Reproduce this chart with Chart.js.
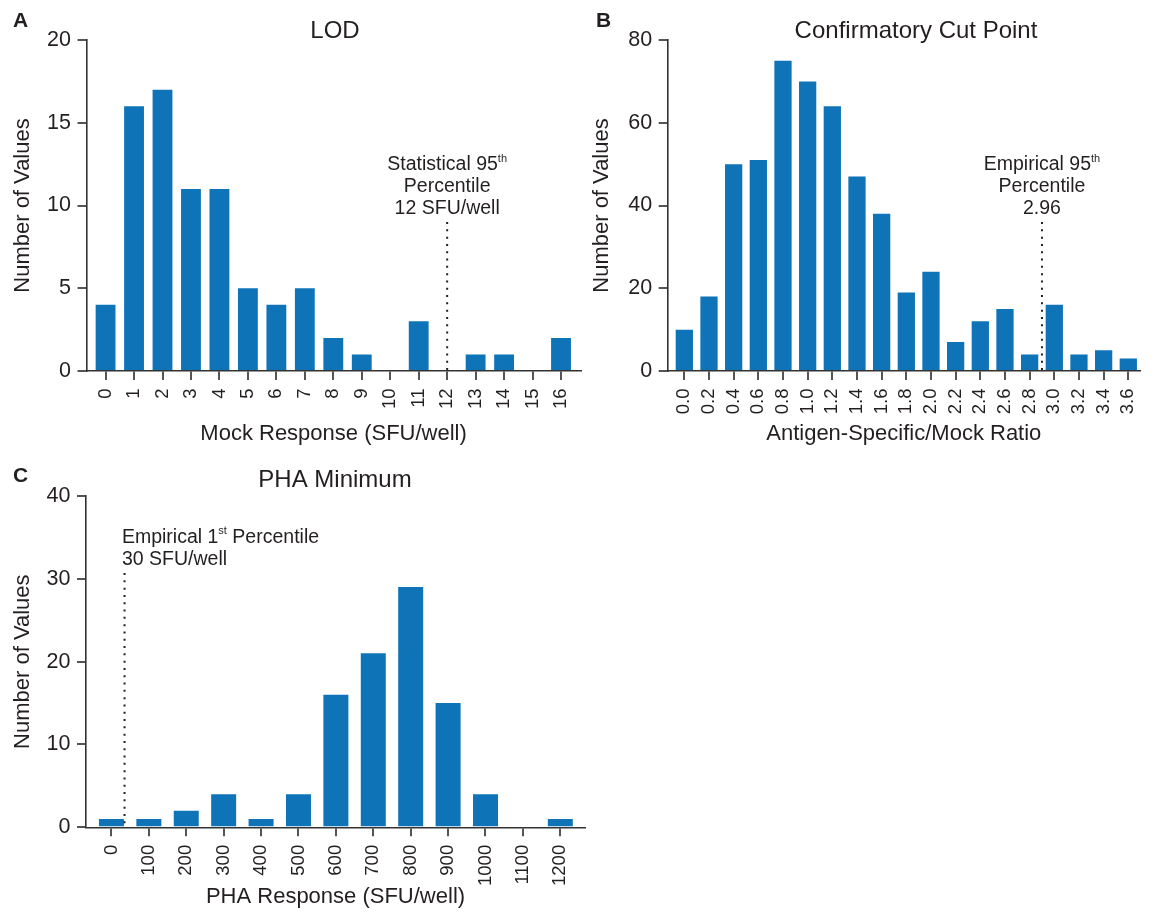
<!DOCTYPE html>
<html>
<head>
<meta charset="utf-8">
<script src="https://cdn.jsdelivr.net/npm/chart.js@4.4.0/dist/chart.umd.min.js"></script>
<style>
html,body{margin:0;padding:0;background:#fff;}
body{width:1159px;height:912px;position:relative;overflow:hidden;}
.p{position:absolute;}
canvas{display:block;}
</style>
</head>
<body>
<div class="p" style="left:0;top:0;width:592px;height:455px"><canvas id="cA" width="592" height="455"></canvas></div>
<div class="p" style="left:580px;top:0;width:579px;height:455px"><canvas id="cB" width="579" height="455"></canvas></div>
<div class="p" style="left:0;top:456px;width:592px;height:456px"><canvas id="cC" width="592" height="456"></canvas></div>
<script>
// ---------- data ----------
const catsA = ['0','1','2','3','4','5','6','7','8','9','10','11','12','13','14','15','16'];
const countsA = [4,16,17,11,11,5,4,5,2,1,0,3,0,1,1,0,2];
const yTicksA = [0,5,10,15,20];

const catsB = ['0.0','0.2','0.4','0.6','0.8','1.0','1.2','1.4','1.6','1.8','2.0','2.2','2.4','2.6','2.8','3.0','3.2','3.4','3.6'];
const countsB = [10,18,50,51,75,70,64,47,38,19,24,7,12,15,4,16,4,5,3];
const yTicksB = [0,20,40,60,80];

const catsC = ['0','100','200','300','400','500','600','700','800','900','1000','1100','1200'];
const countsC = [1,1,2,4,1,4,16,21,29,15,4,0,1];
const yTicksC = [0,10,20,30,40];

const titles = ['LOD', 'Confirmatory Cut Point', 'PHA Minimum'];
const letters = ['A', 'B', 'C'];
const xTitles = ['Mock Response (SFU/well)', 'Antigen-Specific/Mock Ratio', 'PHA Response (SFU/well)'];
const yTitle = 'Number of Values';

// annotation texts (odd segments are superscripts)
const noteA = [['Statistical 95', 'th'], ['Percentile'], ['12 SFU/well']];
const noteB = [['Empirical 95', 'th'], ['Percentile'], ['2.96']];
const noteC = [['Empirical 1', 'st', ' Percentile'], ['30 SFU/well']];
// cut-off line position (category index) and top (count value)
const cutA = 12, cutTopA = 9;
const cutB = 14.5, cutTopB = 36;
const cutC = 0.35, cutTopC = 30.7;

// ---------- style ----------
const FONT = "'Liberation Sans', Arial, Helvetica, sans-serif";
const TEXT = '#231f20';
const BAR = '#0f73b8';
Chart.defaults.font.family = FONT;
Chart.defaults.color = TEXT;

function panelPlugin(p) {
  return {
    id: 'panel' + p.letter,
    afterDraw(chart) {
      const ctx = chart.ctx, xs = chart.scales.x, ys = chart.scales.y;
      ctx.save();
      ctx.fillStyle = TEXT;
      ctx.textBaseline = 'alphabetic';
      ctx.textAlign = 'left';
      ctx.font = 'bold 21px ' + FONT;
      ctx.fillText(p.letter, p.letterX, p.letterY);
      ctx.font = '24px ' + FONT;
      ctx.textAlign = 'center';
      ctx.textBaseline = 'middle';
      ctx.fillText(p.title, p.titleX, p.titleY);
      const lx = xs.getPixelForValue(p.lineAt);
      const ly = ys.getPixelForValue(p.lineTop);
      const lb = ys.getPixelForValue(0);
      ctx.strokeStyle = TEXT;
      ctx.lineWidth = 2;
      ctx.setLineDash([2, 5.3]);
      ctx.beginPath();
      ctx.moveTo(lx, ly);
      ctx.lineTo(lx, lb);
      ctx.stroke();
      ctx.setLineDash([]);
      ctx.textBaseline = 'alphabetic';
      ctx.textAlign = 'left';
      const n = p.note.length;
      p.note.forEach((segs, li) => {
        const base = ly - 8.5 - (n - 1 - li) * 21.7;
        let w = 0;
        segs.forEach((s, i) => { ctx.font = (i % 2 ? '11px ' : '19.5px ') + FONT; w += ctx.measureText(s).width; });
        let x0 = p.noteAlign === 'center' ? lx - w / 2 : lx + p.noteDx;
        segs.forEach((s, i) => {
          ctx.font = (i % 2 ? '11px ' : '19.5px ') + FONT;
          ctx.fillText(s, x0, i % 2 ? base - 8.5 : base);
          x0 += ctx.measureText(s).width;
        });
      });
      ctx.restore();
    }
  };
}

function makeChart(id, cats, counts, yTicks, c) {
  const tickGrid = { display: true, offset: false, drawOnChartArea: false, drawTicks: true, tickLength: 9, color: '#555', lineWidth: 2 };
  const border = { display: true, color: '#333', width: 1.6 };
  return new Chart(document.getElementById(id), {
    type: 'bar',
    data: {
      datasets: [{
        data: counts.map((v, i) => ({ x: i, y: v })),
        backgroundColor: BAR,
        borderWidth: 0,
        barPercentage: c.barPct,
        categoryPercentage: 1
      }]
    },
    options: {
      responsive: false,
      animation: false,
      events: [],
      layout: { padding: { top: 40, right: c.padRight, left: 0, bottom: 0 } },
      plugins: { legend: { display: false }, tooltip: { enabled: false }, title: { display: false } },
      scales: {
        x: {
          type: 'linear', bounds: 'data', min: c.xMin, max: c.xMax, offset: false,
          afterBuildTicks: s => { s.ticks = cats.map((t, i) => ({ value: i })); },
          afterFit: s => { s.height = c.xH; },
          ticks: { autoSkip: false, minRotation: 90, maxRotation: 90, padding: 8.5, font: { size: 18.5 }, color: TEXT,
                   callback: (v, i) => cats[i] },
          grid: tickGrid,
          border: border,
          title: { display: true, text: c.xTitle, font: { size: 22 }, color: TEXT, padding: { top: 0, bottom: c.xTitlePad } }
        },
        y: {
          type: 'linear', bounds: 'data', min: yTicks[0], max: yTicks[yTicks.length - 1],
          afterBuildTicks: s => { s.ticks = yTicks.map(v => ({ value: v })); },
          afterFit: s => { s.width = c.yW; },
          ticks: { padding: 6.5, font: { size: 21.5 }, color: TEXT },
          grid: tickGrid,
          border: border,
          title: { display: true, text: yTitle, font: { size: 22 }, color: TEXT, padding: { top: c.yTitlePad, bottom: 0 } }
        }
      }
    },
    plugins: [panelPlugin(c.panel)]
  });
}

makeChart('cA', catsA, countsA, yTicksA, {
  barPct: 0.697, padRight: 7, xMin: -0.67, xMax: 16.69, xH: 84, yW: 86.5,
  xTitle: xTitles[0], xTitlePad: 7.8, yTitlePad: 9.8,
  panel: { letter: letters[0], letterX: 13, letterY: 27, title: titles[0], titleX: 335, titleY: 31,
           lineAt: cutA, lineTop: cutTopA, note: noteA, noteAlign: 'center' }
});

makeChart('cB', catsB, countsB, yTicksB, {
  barPct: 0.70, padRight: 0, xMin: -0.674, xMax: 18.47, xH: 84, yW: 87.7,
  xTitle: xTitles[1], xTitlePad: 7.8, yTitlePad: 8.3,
  panel: { letter: letters[1], letterX: 16, letterY: 27, title: titles[1], titleX: 336, titleY: 31.5,
           lineAt: cutB, lineTop: cutTopB, note: noteB, noteAlign: 'center' }
});

makeChart('cC', catsC, countsC, yTicksC, {
  barPct: 0.668, padRight: 7, xMin: -0.68, xMax: 12.66, xH: 84.7, yW: 86,
  xTitle: xTitles[2], xTitlePad: 1.8, yTitlePad: 9.8,
  panel: { letter: letters[2], letterX: 13, letterY: 25.7, title: titles[2], titleX: 335, titleY: 24,
           lineAt: cutC, lineTop: cutTopC, note: noteC, noteAlign: 'left', noteDx: -2.6 }
});
</script>
</body>
</html>
